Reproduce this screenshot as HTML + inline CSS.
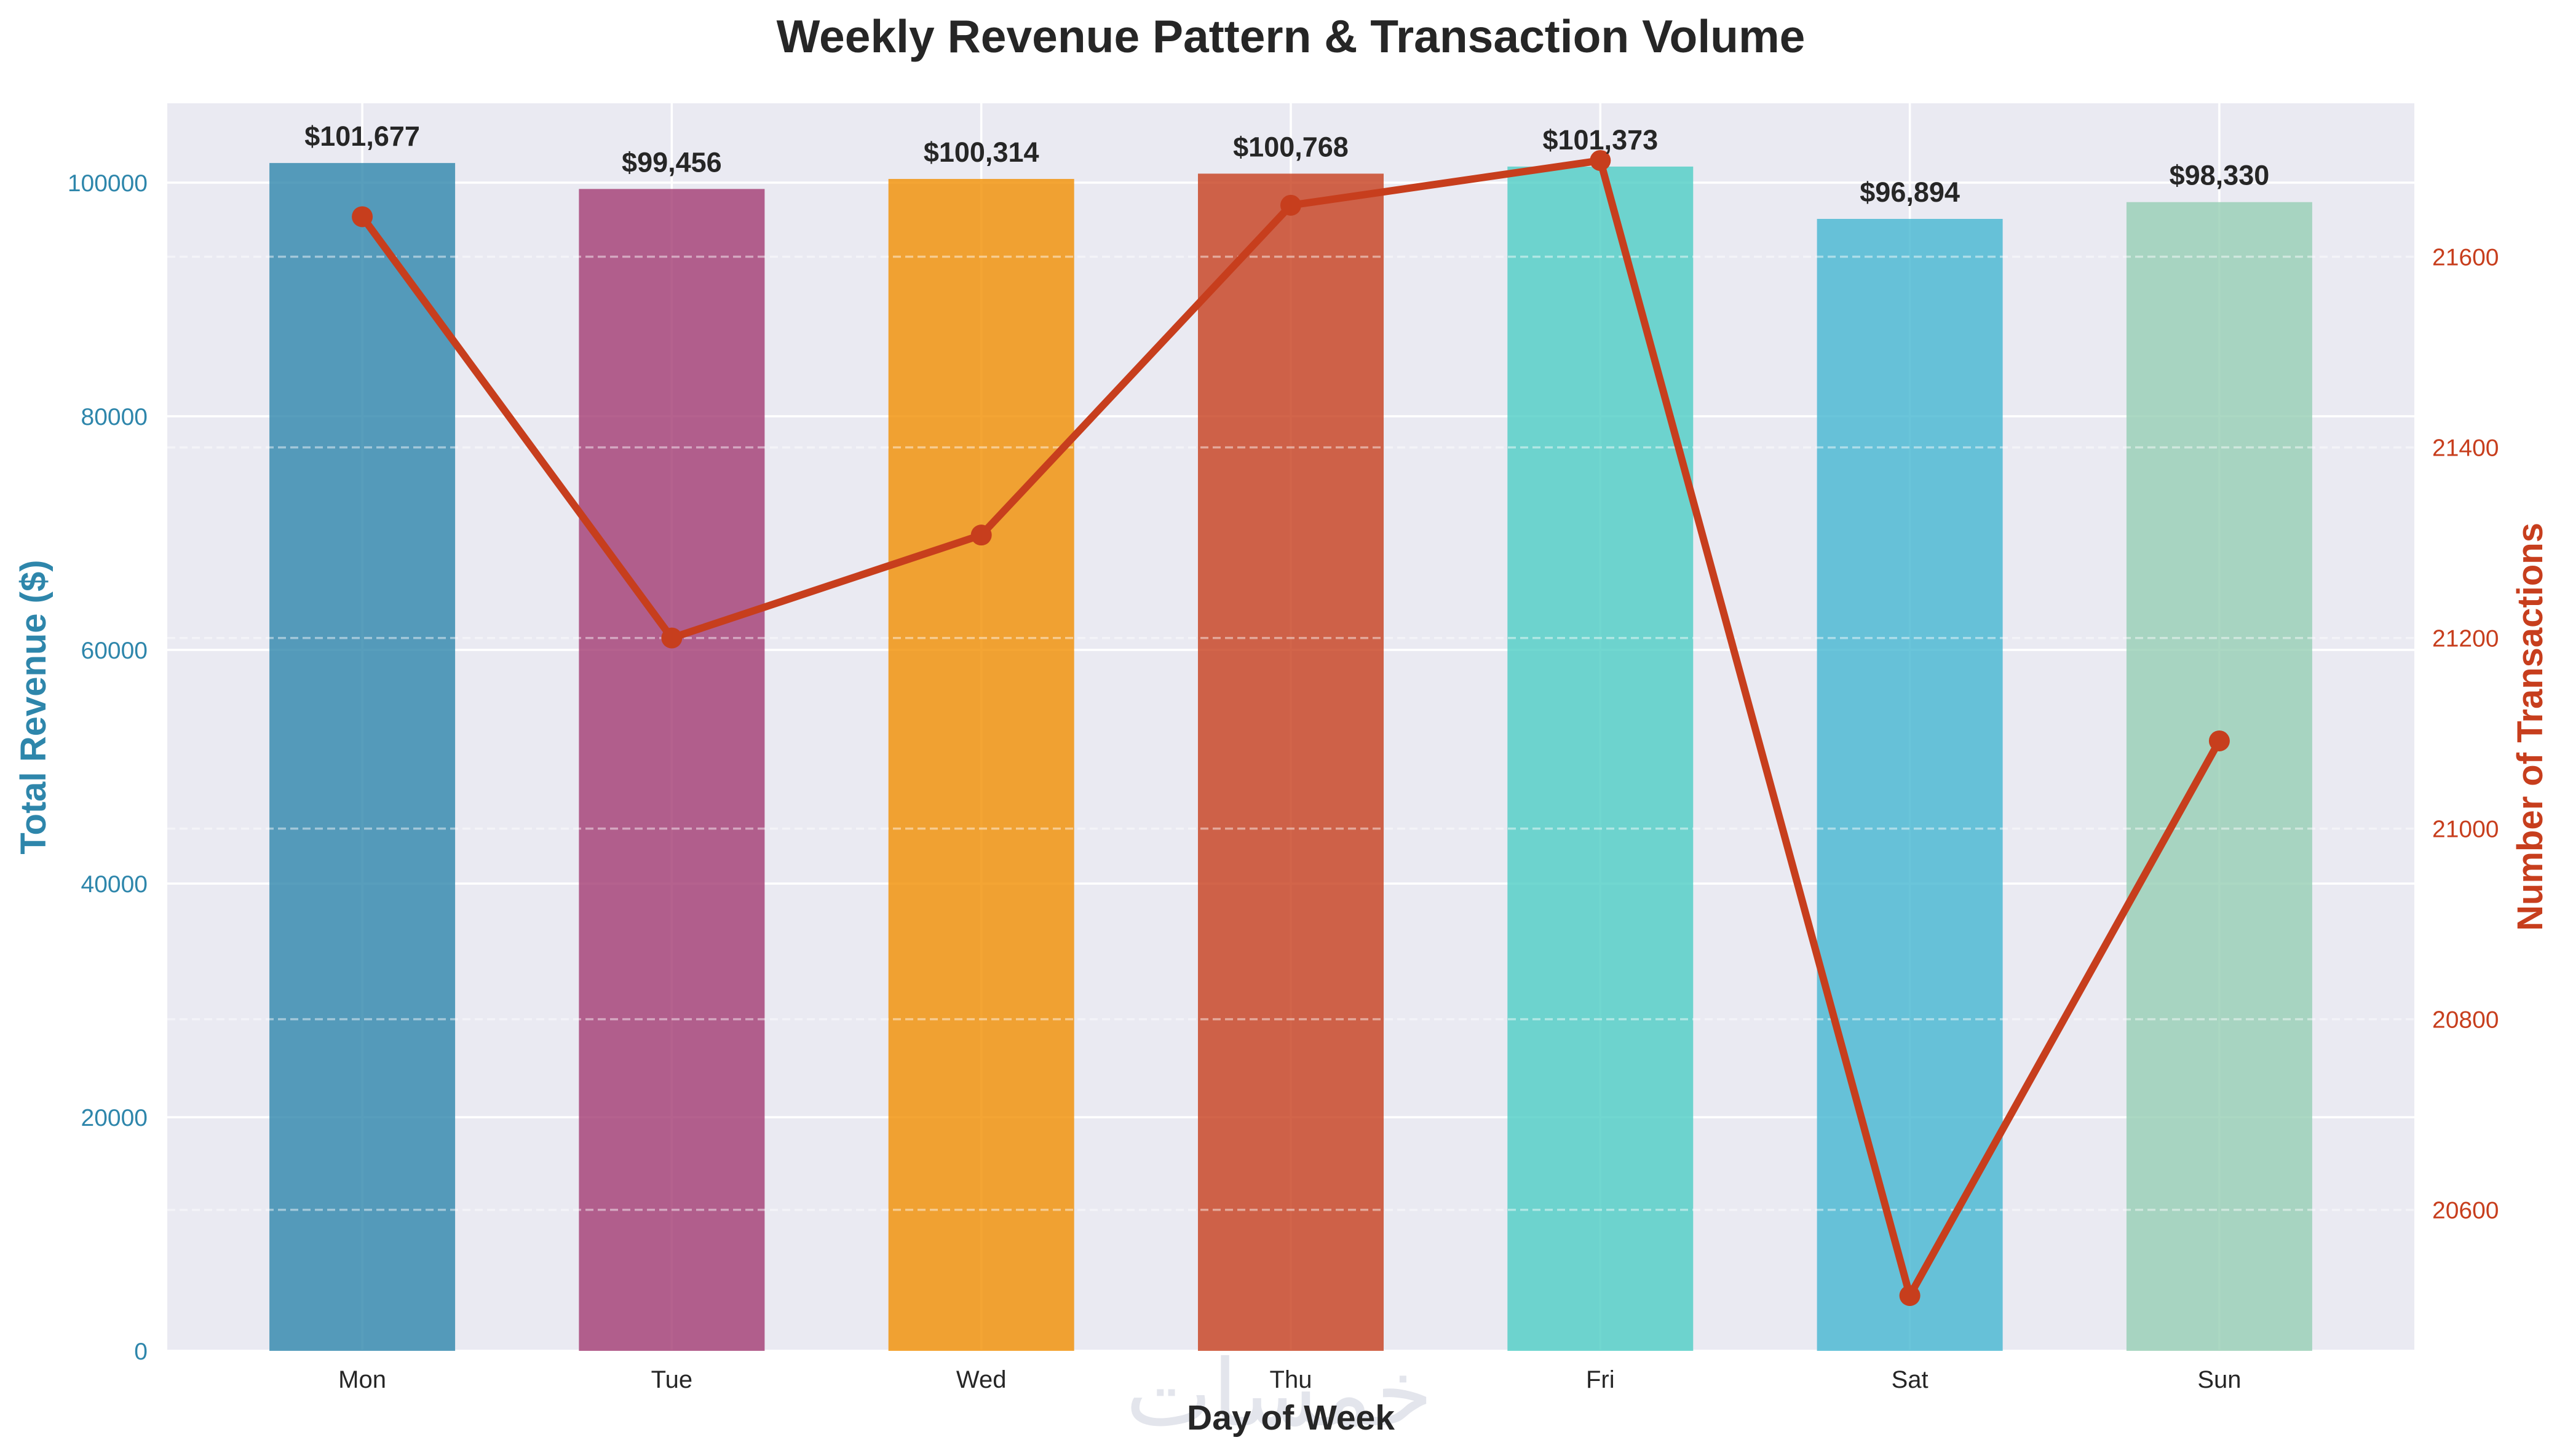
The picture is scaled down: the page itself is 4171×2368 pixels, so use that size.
<!DOCTYPE html>
<html><head><meta charset="utf-8"><style>
html,body{margin:0;padding:0;background:#fff;}
svg{display:block;font-family:"Liberation Sans",Arial,sans-serif;}
</style></head><body>
<svg id="chart" width="4171" height="2368" viewBox="0 0 4171 2368" xmlns="http://www.w3.org/2000/svg">
<rect x="0" y="0" width="4171" height="2368" fill="#ffffff"/>
<rect x="272" y="168" width="3654" height="2029" fill="#eaeaf2"/>
<g id="grid"></g>
<g id="bars"></g>
<g id="grid2"></g>
<g id="line"></g>
<g id="labels"></g>
<text x="1830" y="2318" font-size="150" fill="#e3e5ec" font-family="'Liberation Sans','Noto Sans CJK SC',sans-serif">خمسات</text>
<text x="2099" y="85" text-anchor="middle" font-size="75" font-weight="bold" fill="#262626">Weekly Revenue Pattern &amp; Transaction Volume</text>
<text x="2099" y="2325" text-anchor="middle" font-size="57" font-weight="bold" fill="#262626">Day of Week</text>
<text transform="translate(74,1150) rotate(-90)" text-anchor="middle" font-size="58" font-weight="bold" fill="#2e86ab">Total Revenue ($)</text>
<text transform="translate(4134,1182) rotate(-90)" text-anchor="middle" font-size="58" font-weight="bold" fill="#c73e1d">Number of Transactions</text>
</svg>
<script>
const days = ["Mon","Tue","Wed","Thu","Fri","Sat","Sun"];
const revenue = [101677, 99456, 100314, 100768, 101373, 96894, 98330];
const transactions = [21642, 21200, 21308, 21654, 21701, 20510, 21092];
const barColors = ["#2E86AB","#A23B72","#F18F01","#C73E1D","#4ECDC4","#45B7D1","#96CEB4"];
const revTicks = [0, 20000, 40000, 60000, 80000, 100000];
const txTicks = [20600, 20800, 21000, 21200, 21400, 21600];

const NS = "http://www.w3.org/2000/svg";
const L = 272, R = 3926, T = 168, B = 2197;
const xMin = -0.63, xMax = 6.63;
const revMax = 106789;
const txMin = 20452, txMax = 21761;
const xs = i => L + (i - xMin) / (xMax - xMin) * (R - L);
const yL = v => B - v / revMax * (B - T);
const yR = v => B - (v - txMin) / (txMax - txMin) * (B - T);
function mk(tag, attrs, parent, text) {
  const e = document.createElementNS(NS, tag);
  for (const k in attrs) e.setAttribute(k, attrs[k]);
  if (text !== undefined) e.textContent = text;
  parent.appendChild(e);
  return e;
}
const grid = document.getElementById("grid");
const grid2 = document.getElementById("grid2");
const bars = document.getElementById("bars");
const lineG = document.getElementById("line");
const labels = document.getElementById("labels");

revTicks.forEach(t => {
  const g = mk("line", {x1: L, x2: R, y1: yL(t), y2: yL(t), stroke: "#fff", "stroke-width": 3.5}, grid);
  
  
  const tx = mk("text", {x: 240, y: yL(t) + 14, "text-anchor": "end", "font-size": 39, fill: "#2e86ab"}, labels, String(t));
  
  
});
days.forEach((d, i) => {
  const g = mk("line", {x1: xs(i), x2: xs(i), y1: T, y2: B, stroke: "#fff", "stroke-width": 3.5}, grid);
  
  
  const tl = mk("text", {x: xs(i), y: 2257, "text-anchor": "middle", "font-size": 40, fill: "#262626"}, labels, d);
  
  
});
const bw = 0.6 * (xs(1) - xs(0));
revenue.forEach((v, i) => {
  const r = mk("rect", {x: xs(i) - bw / 2, y: yL(v), width: bw, height: B - yL(v), fill: barColors[i], "fill-opacity": 0.8}, bars);
  
  
  const lb = mk("text", {x: xs(i), y: yL(v) - 28, "text-anchor": "middle", "font-size": 45, "font-weight": "bold", fill: "#262626"}, labels, "$" + v.toLocaleString("en-US"));
  
  
});
txTicks.forEach(t => {
  const g = mk("line", {x1: L, x2: R, y1: yR(t), y2: yR(t), stroke: "#fff", "stroke-opacity": 0.45, "stroke-width": 3.5, "stroke-dasharray": "13 7"}, grid2);
  
  
  const tx = mk("text", {x: 3955, y: yR(t) + 14, "font-size": 39, fill: "#c73e1d"}, labels, String(t));
  
  
});
const pts = transactions.map((v, i) => xs(i) + "," + yR(v)).join(" ");
const pl = mk("polyline", {points: pts, fill: "none", stroke: "#c73e1d", "stroke-width": 12, "stroke-linejoin": "round"}, lineG);


transactions.forEach((v, i) => {
  const c = mk("circle", {cx: xs(i), cy: yR(v), r: 17, fill: "#c73e1d"}, lineG);
  
  
});
</script>
</body></html>
